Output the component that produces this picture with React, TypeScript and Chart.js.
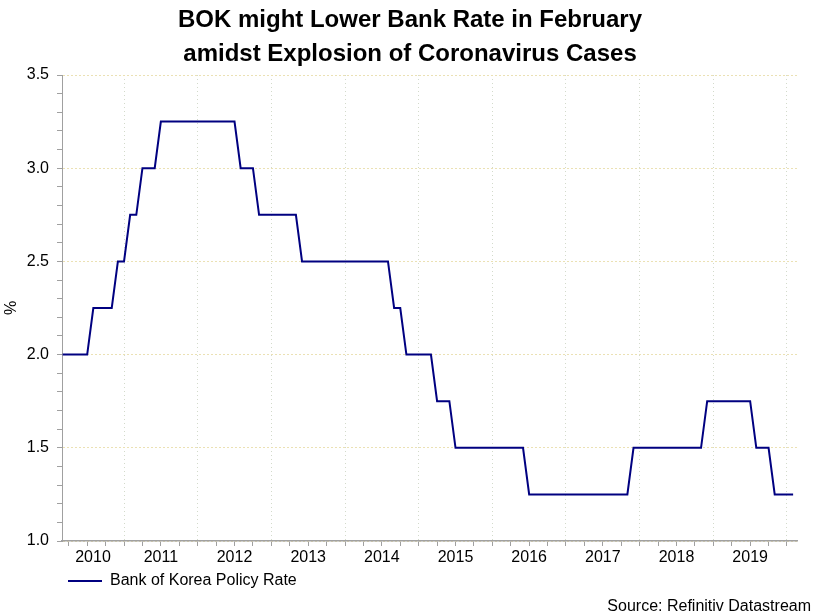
import React, { useEffect, useRef } from 'react';
import { Chart, registerables } from 'chart.js';

Chart.register(...registerables);

const FONT = '"Liberation Sans", Arial, Helvetica, sans-serif';

const titleLines = ['BOK might Lower Bank Rate in February', 'amidst Explosion of Coronavirus Cases'];
const seriesName = 'Bank of Korea Policy Rate';
const sourceText = 'Source: Refinitiv Datastream';
const yAxisTitle = '%';

// End-of-month policy rate (%). Each array starts at the month given in firstMonth.
const years = [2010, 2011, 2012, 2013, 2014, 2015, 2016, 2017, 2018, 2019, 2020];
const firstMonth = [2, 1, 1, 1, 1, 1, 1, 1, 1, 1, 1];
const rates2010 = [2.0, 2.0, 2.0, 2.0, 2.0, 2.25, 2.25, 2.25, 2.25, 2.5, 2.5];
const rates2011 = [2.75, 2.75, 3.0, 3.0, 3.0, 3.25, 3.25, 3.25, 3.25, 3.25, 3.25, 3.25];
const rates2012 = [3.25, 3.25, 3.25, 3.25, 3.25, 3.25, 3.0, 3.0, 3.0, 2.75, 2.75, 2.75];
const rates2013 = [2.75, 2.75, 2.75, 2.75, 2.5, 2.5, 2.5, 2.5, 2.5, 2.5, 2.5, 2.5];
const rates2014 = [2.5, 2.5, 2.5, 2.5, 2.5, 2.5, 2.5, 2.25, 2.25, 2.0, 2.0, 2.0];
const rates2015 = [2.0, 2.0, 1.75, 1.75, 1.75, 1.5, 1.5, 1.5, 1.5, 1.5, 1.5, 1.5];
const rates2016 = [1.5, 1.5, 1.5, 1.5, 1.5, 1.25, 1.25, 1.25, 1.25, 1.25, 1.25, 1.25];
const rates2017 = [1.25, 1.25, 1.25, 1.25, 1.25, 1.25, 1.25, 1.25, 1.25, 1.25, 1.5, 1.5];
const rates2018 = [1.5, 1.5, 1.5, 1.5, 1.5, 1.5, 1.5, 1.5, 1.5, 1.5, 1.75, 1.75];
const rates2019 = [1.75, 1.75, 1.75, 1.75, 1.75, 1.75, 1.5, 1.5, 1.5, 1.25, 1.25, 1.25];
const rates2020 = [1.25];
const ratesByYear = [rates2010, rates2011, rates2012, rates2013, rates2014, rates2015, rates2016, rates2017, rates2018, rates2019, rates2020];

// Axis ticks
const yMajorTicks = [1.0, 1.5, 2.0, 2.5, 3.0, 3.5];
const xYearLabels = ['2010', '2011', '2012', '2013', '2014', '2015', '2016', '2017', '2018', '2019'];

// Build points: value of month m (1-12) is plotted at the end of that month
function buildPoints() {
  const pts: { x: number; y: number }[] = [];
  years.forEach((yr, yi) => {
    ratesByYear[yi].forEach((v, k) => {
      const m = firstMonth[yi] + k;
      pts.push({ x: yr + m / 12, y: v });
    });
  });
  return pts;
}

const GRID_X = '#d3dacb';
const GRID_Y = '#ebe1b4';
const AXIS = '#a0a0a0';
const LINE = '#000080';

const sourcePlugin = {
  id: 'sourceNote',
  afterDraw(chart: any) {
    const ctx = chart.ctx;
    ctx.save();
    ctx.font = `16px ${FONT}`;
    ctx.fillStyle = '#000';
    ctx.textAlign = 'right';
    ctx.textBaseline = 'alphabetic';
    ctx.fillText(sourceText, chart.width - 9, chart.height - 4);
    ctx.restore();
  },
};

export default function App() {
  const ref = useRef<HTMLCanvasElement | null>(null);

  useEffect(() => {
    if (!ref.current) return;
    Chart.defaults.font.family = FONT;
    const chart = new Chart(ref.current, {
      type: 'line',
      data: {
        datasets: [
          {
            label: seriesName,
            data: buildPoints(),
            borderColor: LINE,
            backgroundColor: LINE,
            borderWidth: 2,
            pointRadius: 0,
            pointHoverRadius: 0,
            tension: 0,
            fill: false,
          },
        ],
      },
      options: {
        responsive: false,
        animation: false,
        events: [],
        layout: { padding: { left: 0, right: 0, top: 0, bottom: 16 } },
        plugins: {
          title: {
            display: true,
            text: titleLines,
            color: '#000',
            font: { family: FONT, size: 24, weight: 'bold', lineHeight: 34 / 24 },
            padding: { top: 3, bottom: 4 },
          },
          legend: {
            display: true,
            position: 'bottom',
            align: 'start',
            fullSize: false,
            labels: {
              color: '#000',
              font: { family: FONT, size: 16 },
              usePointStyle: true,
              pointStyle: 'line',
              pointStyleWidth: 34,
              boxWidth: 34,
              padding: 6,
            },
          },
          tooltip: { enabled: false },
        },
        scales: {
          x: {
            type: 'linear',
            min: 2010.158,
            max: 2020.136,
            bounds: 'data',
            afterBuildTicks: (scale: any) => {
              const min = scale.min;
              const max = scale.max;
              const ticks: any[] = [];
              for (let y = Math.floor(min); y <= Math.ceil(max); y++) {
                for (let q = 0; q < 4; q++) {
                  const v = y + q / 4;
                  if (v >= min - 1e-9 && v <= max + 1e-9) ticks.push({ value: v, kind: q === 0 ? 'year' : 'quarter' });
                }
                const a = Math.max(y, min);
                const b = Math.min(y + 1, max);
                const text = xYearLabels.find((l) => Number(l) === y);
                if (text && b - a >= 0.5) ticks.push({ value: (a + b) / 2, kind: 'label', text });
              }
              ticks.sort((p, q) => p.value - q.value);
              scale.ticks = ticks;
            },
            afterFit: (scale: any) => {
              scale.height = 26;
              scale.paddingRight = 23;
              scale.paddingLeft = 0;
            },
            ticks: {
              autoSkip: false,
              maxRotation: 0,
              minRotation: 0,
              padding: 2,
              color: '#000',
              font: { family: FONT, size: 16 },
              callback: (_v: any, i: number, ticks: any[]) => (ticks[i] && ticks[i].kind === 'label' ? ticks[i].text : ''),
            },
            grid: {
              drawOnChartArea: true,
              color: (ctx: any) => (ctx.tick && ctx.tick.kind === 'year' ? GRID_X : 'rgba(0,0,0,0)'),
              tickColor: (ctx: any) => (ctx.tick && ctx.tick.kind === 'label' ? 'rgba(0,0,0,0)' : AXIS),
              tickLength: 5,
              lineWidth: 1,
            },
            border: { display: true, color: AXIS, width: 1.5, dash: [1, 3] },
          },
          y: {
            type: 'linear',
            min: 1,
            max: 3.5,
            bounds: 'data',
            afterBuildTicks: (scale: any) => {
              const ticks: any[] = [];
              const lo = yMajorTicks[0];
              const hi = yMajorTicks[yMajorTicks.length - 1];
              const n = Math.round((hi - lo) * 10);
              for (let i = 0; i <= n; i++) {
                const v = Math.round((lo + i / 10) * 10) / 10;
                const major = yMajorTicks.some((m) => Math.abs(m - v) < 1e-9);
                ticks.push({ value: v, kind: major ? 'major' : 'minor' });
              }
              scale.ticks = ticks;
            },
            afterFit: (scale: any) => {
              scale.width = 62;
            },
            title: {
              display: true,
              text: yAxisTitle,
              color: '#000',
              font: { family: FONT, size: 16 },
              padding: { top: 2, bottom: 0 },
            },
            ticks: {
              autoSkip: false,
              padding: 8,
              color: '#000',
              font: { family: FONT, size: 16 },
              callback: (_v: any, i: number, ticks: any[]) =>
                ticks[i] && ticks[i].kind === 'major' ? Number(ticks[i].value).toFixed(1) : '',
            },
            grid: {
              drawOnChartArea: true,
              color: (ctx: any) => (ctx.tick && ctx.tick.kind === 'major' ? GRID_Y : 'rgba(0,0,0,0)'),
              tickColor: AXIS,
              tickLength: 5,
              lineWidth: 1,
            },
            border: { display: true, color: AXIS, width: 1, dash: [2, 2] },
          },
        },
      },
      plugins: [sourcePlugin],
    } as any);
    return () => chart.destroy();
  }, []);

  return (
    <div style={{ position: 'absolute', left: 0, top: 0, width: 820, height: 615, background: '#fff' }}>
      <canvas ref={ref} width={820} height={615} style={{ display: 'block', width: 820, height: 615 }} />
    </div>
  );
}
